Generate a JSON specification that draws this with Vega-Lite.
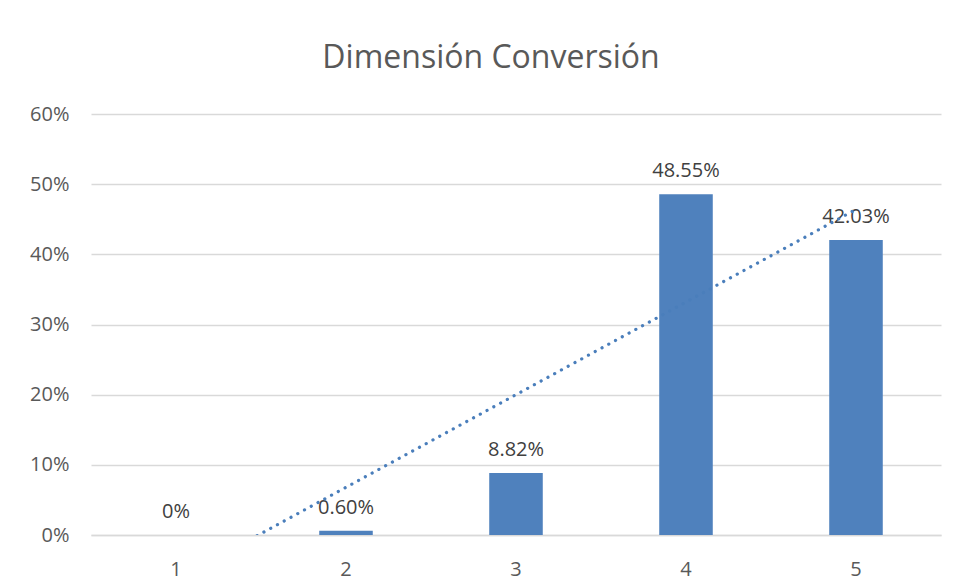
{
  "$schema": "https://vega.github.io/schema/vega-lite/v6.json",
  "autosize": {"type": "none"},
  "width": 850,
  "height": 421,
  "padding": {"left": 91, "top": 114, "right": 13, "bottom": 53},
  "background": "white",
  "config": {
    "font": "Open Sans",
    "view": {"stroke": null}
  },
  "title": {
    "text": "Dimensión Conversión",
    "fontSize": 32,
    "fontWeight": "normal",
    "color": "#595959",
    "font": "Open Sans",
    "anchor": "middle",
    "dx": -25,
    "offset": 29
  },
  "data": {
    "values": [
      {"x": 1, "v": 0, "label": "0%"},
      {"x": 2, "v": 0.006, "label": "0.60%"},
      {"x": 3, "v": 0.0882, "label": "8.82%"},
      {"x": 4, "v": 0.4855, "label": "48.55%"},
      {"x": 5, "v": 0.4203, "label": "42.03%"}
    ]
  },
  "layer": [
    {
      "layer": [
        {
          "mark": {"type": "bar", "color": "#4F81BD"},
          "encoding": {
            "x": {
              "field": "x",
              "type": "ordinal",
              "scale": {"paddingInner": 0.685, "paddingOuter": 0.3425},
              "axis": {
                "title": null,
                "labelAngle": 0,
                "labelFontSize": 20,
                "labelColor": "#595959",
                "labelPadding": 24,
                "ticks": false,
                "domain": true,
                "domainColor": "#D9D9D9",
                "domainWidth": 1.5,
                "grid": false
              }
            },
            "y": {
              "field": "v",
              "type": "quantitative",
              "scale": {"domain": [0, 0.6], "nice": false},
              "axis": {
                "title": null,
                "values": [0, 0.1, 0.2, 0.3, 0.4, 0.5, 0.6],
                "format": ".0%",
                "labelFontSize": 20,
                "labelColor": "#595959",
                "labelPadding": 22,
                "ticks": false,
                "domain": false,
                "grid": true,
                "gridColor": "#D9D9D9",
                "gridWidth": 1.5
              }
            }
          }
        },
        {
          "mark": {"type": "text", "baseline": "alphabetic", "dy": -17, "fontSize": 20, "color": "#404040"},
          "encoding": {
            "x": {"field": "x", "type": "ordinal"},
            "y": {"field": "v", "type": "quantitative"},
            "text": {"field": "label"}
          }
        }
      ]
    },
    {
      "transform": [
        {"regression": "v", "on": "x", "extent": [1, 5]}
      ],
      "mark": {
        "type": "line",
        "color": "#4A7EBB",
        "strokeWidth": 3.2,
        "strokeDash": [0.1, 7.6],
        "strokeCap": "round",
        "clip": true
      },
      "encoding": {
        "x": {
          "field": "x",
          "type": "quantitative",
          "scale": {"domain": [0.5, 5.5], "nice": false, "zero": false},
          "axis": null
        },
        "y": {"field": "v", "type": "quantitative"}
      }
    }
  ],
  "resolve": {"scale": {"x": "independent"}}
}
